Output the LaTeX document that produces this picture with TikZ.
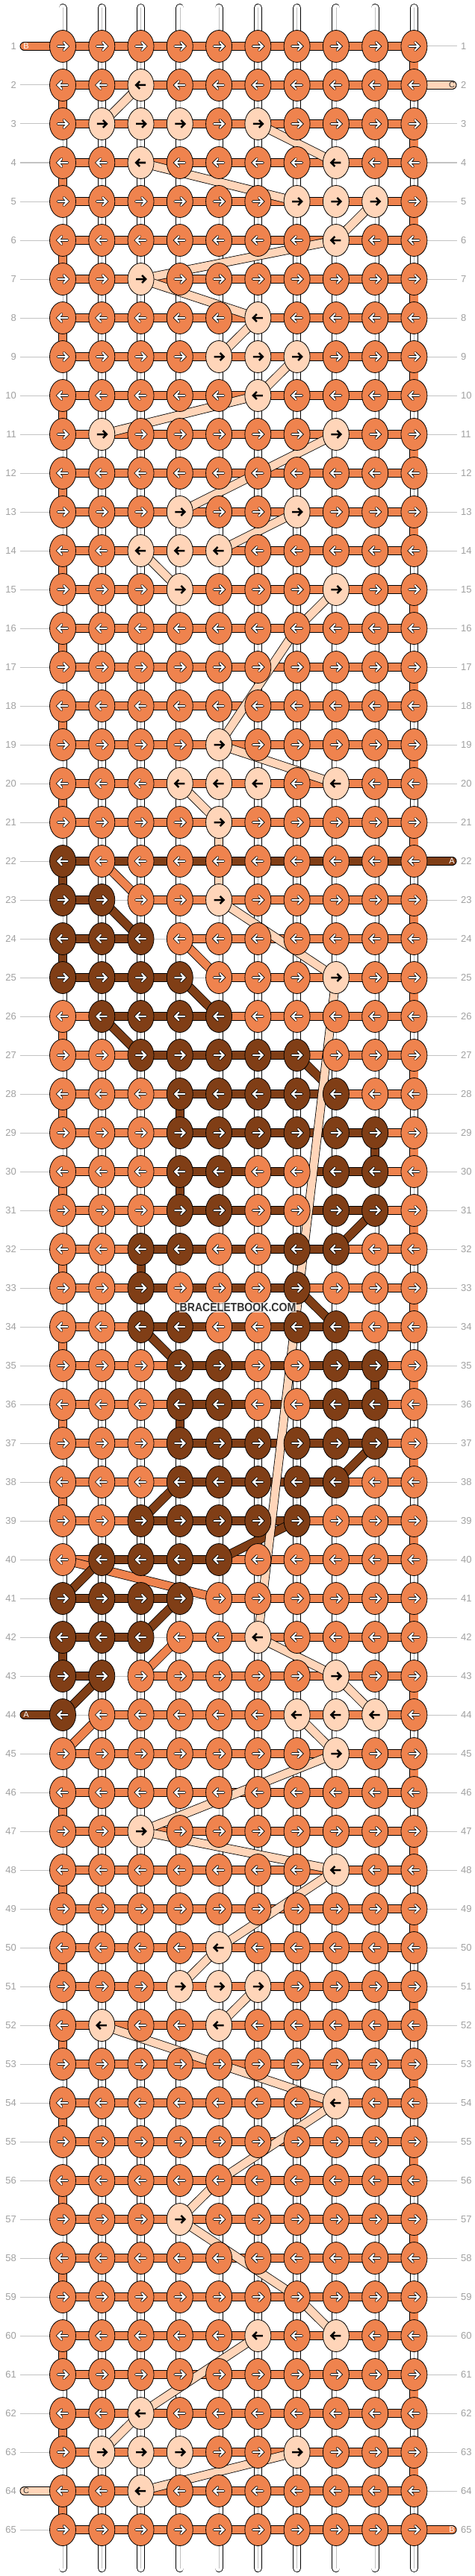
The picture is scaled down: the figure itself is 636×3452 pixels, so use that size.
\documentclass[tikz,border=0pt]{standalone}
\usepackage{fontspec}
\setmainfont{Liberation Sans}
\usetikzlibrary{shapes.geometric}

\definecolor{threadA}{RGB}{128,62,22}
\definecolor{threadB}{RGB}{239,131,78}
\definecolor{threadC}{RGB}{255,213,185}
\definecolor{rowtext}{RGB}{160,160,160}
\definecolor{rowrule}{RGB}{195,195,195}

\pgfdeclarelayer{rowlines}
\pgfdeclarelayer{strands}
\pgfsetlayers{rowlines,strands,main}

% knots that are not in thread B
\newcommand{\knotsin}[2]{%
  \foreach \row/\cols in {#2}{%
    \foreach \col in \cols {\expandafter\xdef\csname kc-\row-\col\endcsname{#1}}}}
\knotsin{threadC}{2/{3}, 3/{2,3,4,6}, 4/{3,8}, 5/{7,8,9}, 6/{8}, 7/{3}, 8/{6},
  9/{5,6,7}, 10/{6}, 11/{2,8}, 13/{4,7}, 14/{3,4,5}, 15/{4,8}, 19/{5},
  20/{4,5,6,8}, 21/{5}, 23/{5}, 25/{8}, 42/{6}, 43/{8}, 44/{7,8,9}, 45/{8},
  47/{3}, 48/{8}, 50/{5}, 51/{4,5,6}, 52/{2,5}, 54/{8}, 57/{4}, 60/{6,8},
  62/{3}, 63/{2,3,4,7}, 64/{3}}
\knotsin{threadA}{22/{1}, 23/{1,2}, 24/{1,2,3}, 25/{1,2,3,4}, 26/{2,3,4,5},
  27/{3,...,7}, 28/{4,...,8}, 29/{4,...,9}, 30/{4,5,8,9}, 31/{4,5,8,9},
  32/{3,4,7,8}, 33/{3,7}, 34/{3,4,7,8}, 35/{4,5,8,9}, 36/{4,5,8,9},
  37/{4,...,9}, 38/{4,...,8}, 39/{3,...,7}, 40/{2,...,5}, 41/{1,...,4},
  42/{1,2,3}, 43/{1,2}, 44/{1}}

% first knot of the B row, where it is not knot 1
\newcommand{\firstB}[1]{%
  \foreach \row/\col in {#1}{\expandafter\xdef\csname fb-\row\endcsname{\col}}}
\firstB{23/3, 24/4, 25/5, 41/5, 42/4, 43/3, 44/2}

\def\peachname{threadC}

\tikzset{
  knot/.style={ellipse, draw=black, line width=0.8pt, minimum width=35pt,
    minimum height=43pt, inner sep=0pt},
  thread/.style={draw=black, line width=0.8pt, double=#1, double distance=10.4pt},
  warp/.style={draw=black, line width=0.8pt, double=white, double distance=9.4pt,
    line cap=round},
  rownum/.style={text=rowtext, font=\fontsize{13}{13}\selectfont, inner sep=0pt},
  tag/.style={font=\fontsize{11}{11}\selectfont, inner sep=0pt},
  pics/lightarrow/.style={code={
    \draw[black, line width=3.8pt, line cap=round] (-6.5,0) -- (6,0) (1.5,-5) -- (6.5,0) -- (1.5,5);
    \draw[white, line width=2.2pt, line cap=round] (-6.5,0) -- (6,0) (1.5,-5) -- (6.5,0) -- (1.5,5);}},
  pics/darkarrow/.style={code={
    \draw[black, line width=2.5pt] (-6.5,0) -- (6,0) (1.5,-5) -- (6.5,0) -- (1.5,5);}},
}

\begin{document}
\begin{tikzpicture}[x=1pt, y=-1pt]
  \useasboundingbox (0,0) rectangle (636,3452);

  % knots
  \foreach \row in {1,...,65}{
    \foreach \col in {1,...,10}{
      \ifcsname kc-\row-\col\endcsname
        \edef\kc{\csname kc-\row-\col\endcsname}\else\def\kc{threadB}\fi
      \node[knot, fill=\kc] (k\row-\col) at ({84+(\col-1)*52.27},{62+(\row-1)*52}) {};
      \ifodd\row \def\dir{1}\else\def\dir{-1}\fi
      \ifx\kc\peachname
        \pic[xscale=\dir] at (k\row-\col) {darkarrow};
      \else
        \pic[xscale=\dir] at (k\row-\col) {lightarrow};
      \fi
    }
  }

  % row numbers
  \foreach \row in {1,...,65}{
    \node[rownum, anchor=east] (nl\row) at (22,{62+(\row-1)*52}) {\row};
    \node[rownum, anchor=west] (nr\row) at (617,{62+(\row-1)*52}) {\row};
    \begin{pgfonlayer}{rowlines}
      \draw[rowrule, line width=1pt] ([xshift=4.5pt]nl\row.east) -- ([xshift=-5.5pt]nr\row.west);
    \end{pgfonlayer}
  }

  \begin{pgfonlayer}{strands}
    % warps
    \foreach \col in {1,...,10}{
      \coordinate (wt\col) at ({84+(\col-1)*52.27},10.5);
      \coordinate (wb\col) at ({84+(\col-1)*52.27},3441.5);
      \draw[warp] (wt\col) -- (wb\col);
      \draw[gray!50, line width=0.6pt] (wt\col) -- (wb\col);
    }

    % thread B
    \foreach \row in {1,...,65}{
      \ifcsname fb-\row\endcsname
        \edef\fb{\csname fb-\row\endcsname}\else\def\fb{1}\fi
      \draw[thread=threadB] (k\row-\fb.center) -- (k\row-10.center);
    }
    \foreach \row in {1,3,...,63}{
      \pgfmathtruncatemacro\nxt{\row+1}
      \draw[thread=threadB] (k\row-10.center) -- (k\nxt-10.center);
    }
    \foreach \row in {2,4,...,20,26,28,...,38,46,48,...,64}{
      \pgfmathtruncatemacro\nxt{\row+1}
      \draw[thread=threadB] (k\row-1.center) -- (k\nxt-1.center);
    }
    \foreach \a/\b in {22-2/23-3, 24-4/25-5, 40-1/41-5, 42-4/43-3, 44-2/45-1}
      \draw[thread=threadB] (k\a.center) -- (k\b.center);

    % thread A
    \foreach \row/\a/\b in {22/1/10, 23/1/2, 24/1/3, 25/1/4, 26/2/5, 27/3/7,
        28/4/8, 29/4/9, 30/4/9, 31/4/9, 32/3/8, 33/3/7, 34/3/8, 35/4/9, 36/4/9,
        37/4/9, 38/4/8, 39/3/7, 40/2/5, 41/1/4, 42/1/3, 43/1/2}
      \draw[thread=threadA] (k\row-\a.center) -- (k\row-\b.center);
    \foreach \a/\b in {22-1/23-1, 23-2/24-3, 24-1/25-1, 25-4/26-5, 26-2/27-3,
        27-7/28-8, 28-4/29-4, 29-9/30-9, 30-4/31-4, 31-9/32-8, 32-3/33-3,
        33-7/34-8, 34-3/35-4, 35-9/36-9, 36-4/37-4, 37-9/38-8, 38-4/39-3,
        39-7/40-5, 40-2/41-1, 41-4/42-3, 42-1/43-1, 43-2/44-1}
      \draw[thread=threadA] (k\a.center) -- (k\b.center);

    % thread C
    \foreach \a/\b in {2-3/3-2, 3-6/4-8, 4-3/5-7, 5-9/6-8, 6-8/7-3, 7-3/8-6,
        8-6/9-5, 9-7/10-6, 10-6/11-2, 11-8/13-4, 13-7/14-5, 14-3/15-4,
        15-8/16-7, 16-7/19-5, 19-5/20-8, 20-4/21-5, 21-5/22-5, 22-5/23-5,
        23-5/25-8, 25-8/42-6, 42-6/43-8, 43-8/44-9, 44-7/45-8, 45-8/47-3,
        47-3/48-8, 48-8/50-5, 50-5/51-4, 51-6/52-5, 52-2/54-8, 54-8/56-5,
        56-5/57-4, 57-4/59-7, 59-7/60-8, 60-6/62-3, 62-3/63-2, 63-7/64-3}
      \draw[thread=threadC] (k\a.center) -- (k\b.center);

    % loose ends
    \coordinate (eB1) at (32.5,62);
    \coordinate (eC2) at (605.5,114);
    \coordinate (eA22) at (605.5,1154);
    \coordinate (eA44) at (32.5,2298);
    \coordinate (eC64) at (32.5,3338);
    \coordinate (eB65) at (605.5,3390);
    \draw[thread=threadB, line cap=round] (k1-1.center) -- (eB1);
    \draw[thread=threadC, line cap=round] (k2-10.center) -- (eC2);
    \draw[thread=threadA, line cap=round] (k22-10.center) -- (eA22);
    \draw[thread=threadA, line cap=round] (k44-1.center) -- (eA44);
    \draw[thread=threadC, line cap=round] (k64-1.center) -- (eC64);
    \draw[thread=threadB, line cap=round] (k65-10.center) -- (eB65);
  \end{pgfonlayer}

  \node[tag, text=white] (tB1) at (35,62) {B};
  \node[tag, text=black!80] (tC2) at (605,114) {C};
  \node[tag, text=white] (tA22) at (605,1154) {A};
  \node[tag, text=white] (tA44) at (35,2298) {A};
  \node[tag, text=black!80] (tC64) at (35,3338) {C};
  \node[tag, text=white] (tB65) at (605,3390) {B};

  \node[font=\bfseries\fontsize{16}{16}\selectfont, text=black!80, fill=white,
    fill opacity=0.6, text opacity=1, inner sep=1pt] (mark) at (318.5,1752)
    {\scalebox{0.88}[1]{BRACELETBOOK.COM}};
\end{tikzpicture}
\end{document}
